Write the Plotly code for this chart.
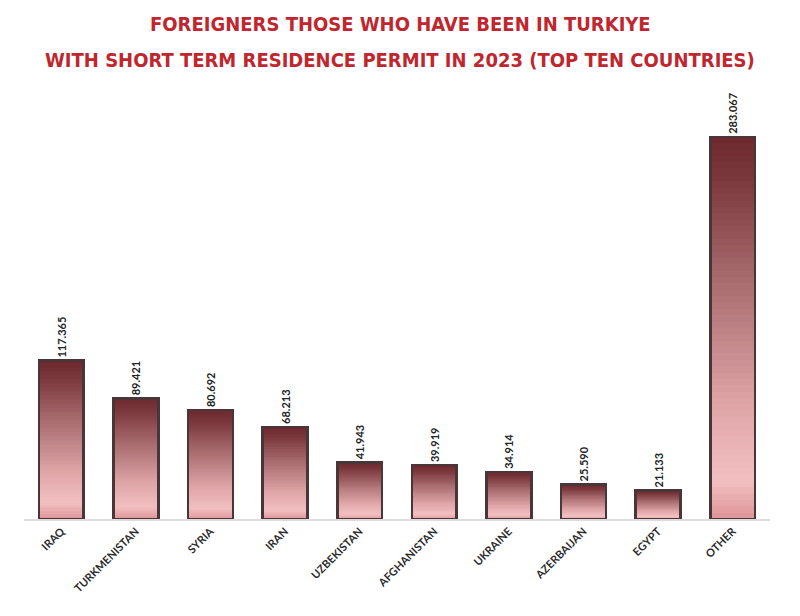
import plotly.graph_objects as go

categories = ["IRAQ", "TURKMENISTAN", "SYRIA", "IRAN", "UZBEKISTAN",
              "AFGHANISTAN", "UKRAINE", "AZERBAIJAN", "EGYPT", "OTHER"]
values = [117365, 89421, 80692, 68213, 41943, 39919, 34914, 25590, 21133, 283067]
value_labels = [f"{v:,}".replace(",", ".") for v in values]

title_lines = ["FOREIGNERS THOSE WHO HAVE BEEN IN TURKIYE",
               "WITH SHORT TERM RESIDENCE PERMIT IN 2023 (TOP TEN COUNTRIES)"]

# gradient stops: position from bottom (0) to top (1)
stops = [(0.0, (222, 148, 151)), (0.1, (243, 192, 194)), (0.3, (222, 164, 166)),
         (0.6, (172, 112, 115)), (0.88, (124, 58, 62)), (1.0, (108, 40, 45))]


def grad(t):
    for (p0, c0), (p1, c1) in zip(stops[:-1], stops[1:]):
        if p0 <= t <= p1:
            f = (t - p0) / (p1 - p0) if p1 > p0 else 0
            c = [round(a + (b - a) * f) for a, b in zip(c0, c1)]
            return f"rgb({c[0]},{c[1]},{c[2]})"
    c = stops[-1][1]
    return f"rgb({c[0]},{c[1]},{c[2]})"


N = 60
fig = go.Figure()
for k in range(N):
    fig.add_trace(go.Bar(
        x=categories, y=[v / N for v in values],
        marker=dict(color=grad((k + 0.5) / N), line=dict(width=0)),
        hoverinfo="skip", showlegend=False, xaxis="x", yaxis="y",
    ))

fig.add_trace(go.Bar(
    x=categories, y=values, xaxis="x", yaxis="y2",
    marker=dict(color="rgba(0,0,0,0)", line=dict(color="#4a3638", width=2.5)),
    text=value_labels, textposition="outside", textangle=-90,
    textfont=dict(family="Lato", size=11, color="#222222", weight="bold"),
    cliponaxis=False, showlegend=False,
))

W, H = 800, 616
ML, MR, MT, MB = 16, 38, 106, 105

fig.update_layout(
    width=W, height=H,
    paper_bgcolor="white", plot_bgcolor="white",
    margin=dict(l=ML, r=MR, t=MT, b=MB, autoexpand=False),
    barmode="stack", bargap=0.4,
    xaxis=dict(showgrid=False, showline=True, linecolor="#dddddd", linewidth=1.5,
               tickangle=-45, ticks="",
               tickfont=dict(family="Lato", size=11, color="#2a2a2a", weight="bold")),
    yaxis=dict(range=[0, 300000], visible=False, showgrid=False),
    yaxis2=dict(range=[0, 300000], visible=False, overlaying="y", showgrid=False),
)

plot_h = H - MT - MB
plot_w = W - ML - MR
for txt, ypx in zip(title_lines, [16, 52]):
    fig.add_annotation(
        text=txt, xref="paper", yref="paper",
        x=(392 - ML) / plot_w, y=(H - MB - ypx) / plot_h,
        xanchor="center", yanchor="middle", showarrow=False,
        font=dict(family="DejaVu Sans Condensed, Roboto Condensed, Arial Narrow, sans-serif",
                  size=20, color="#c0262d", weight="bold"),
    )

fig.write_html("out.html")
